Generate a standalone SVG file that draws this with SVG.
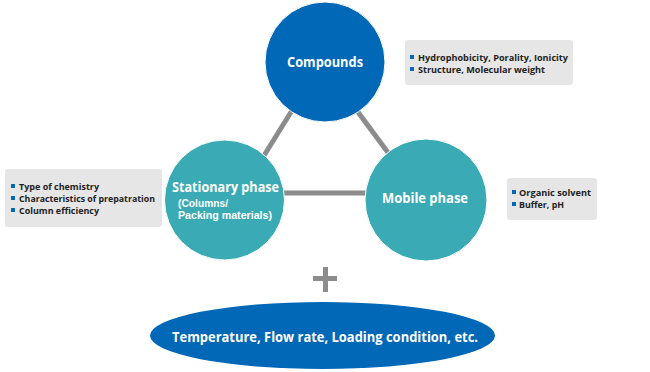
<svg xmlns="http://www.w3.org/2000/svg" width="650" height="372" viewBox="0 0 650 372">
<style>
.conn{stroke:#8c8c8c;stroke-width:5;fill:none}
.blue{fill:#0068b7}
.teal{fill:#3aabb4}
.ct{font-family:"Open Sans","Noto Sans",sans-serif;font-weight:bold;fill:#fff;text-anchor:middle}
.st{font-family:"Liberation Sans",Arial,sans-serif;font-weight:bold;fill:#fff;font-size:10.3px}
.box{fill:#e6e6e6}
.bt{font-family:"Open Sans","Noto Sans",sans-serif;font-weight:bold;font-size:9.5px;fill:#222}
.bul{fill:#0068b7}
</style>
<rect width="650" height="372" fill="#fff"/>
<g id="connectors">
<line class="conn" x1="296" y1="104" x2="260" y2="162"/>
<line class="conn" x1="352" y1="104" x2="392" y2="158"/>
<line class="conn" x1="280" y1="193" x2="370" y2="193"/>
</g>
<g id="compounds">
<circle class="blue" cx="325" cy="62" r="60" stroke="#fff" stroke-width="1"/>
<text class="ct" x="325" y="67" font-size="14" textLength="76" lengthAdjust="spacingAndGlyphs">Compounds</text>
</g>
<g id="stationary">
<circle class="teal" cx="224.5" cy="200" r="60" stroke="#fff" stroke-width="1"/>
<text class="ct" x="225.5" y="192" font-size="13.5" textLength="107" lengthAdjust="spacingAndGlyphs">Stationary phase</text>
<text class="st" x="178" y="207" textLength="50" lengthAdjust="spacingAndGlyphs">(Columns/</text>
<text class="st" x="178" y="219" textLength="94" lengthAdjust="spacingAndGlyphs">Packing materials)</text>
</g>
<g id="mobile">
<circle class="teal" cx="426" cy="200" r="61" stroke="#fff" stroke-width="1"/>
<text class="ct" x="425" y="203" font-size="13.5" textLength="86" lengthAdjust="spacingAndGlyphs">Mobile phase</text>
</g>
<g id="compounds-notes">
<rect class="box" x="405" y="40" width="168" height="45" rx="3"/>
<rect class="bul" x="410" y="55" width="4" height="4"/>
<text class="bt" x="418" y="61" textLength="150" lengthAdjust="spacingAndGlyphs">Hydrophobicity, Porality, Ionicity</text>
<rect class="bul" x="410" y="67" width="4" height="4"/>
<text class="bt" x="418" y="73" textLength="127" lengthAdjust="spacingAndGlyphs">Structure, Molecular weight</text>
</g>
<g id="stationary-notes">
<rect class="box" x="5" y="169" width="157" height="58" rx="3"/>
<rect class="bul" x="11" y="184" width="4" height="4"/>
<text class="bt" x="19" y="190" textLength="80" lengthAdjust="spacingAndGlyphs">Type of chemistry</text>
<rect class="bul" x="11" y="196" width="4" height="4"/>
<text class="bt" x="19" y="202" textLength="136" lengthAdjust="spacingAndGlyphs">Characteristics of prepatration</text>
<rect class="bul" x="11" y="208" width="4" height="4"/>
<text class="bt" x="19" y="214" textLength="80" lengthAdjust="spacingAndGlyphs">Column efficiency</text>
</g>
<g id="mobile-notes">
<rect class="box" x="507" y="178" width="90" height="42" rx="3"/>
<rect class="bul" x="512" y="190" width="4" height="4"/>
<text class="bt" x="519" y="196" textLength="72" lengthAdjust="spacingAndGlyphs">Organic solvent</text>
<rect class="bul" x="512" y="202" width="4" height="4"/>
<text class="bt" x="519" y="208" textLength="45" lengthAdjust="spacingAndGlyphs">Buffer, pH</text>
</g>
<g id="plus">
<rect x="313" y="276" width="24" height="5" fill="#8c8c8c"/>
<rect x="323" y="267" width="5" height="25" fill="#8c8c8c"/>
</g>
<g id="conditions">
<ellipse class="blue" cx="322.5" cy="335.5" rx="172.5" ry="33.5"/>
<text class="ct" x="325" y="341.5" font-size="14.5" textLength="306" lengthAdjust="spacingAndGlyphs">Temperature, Flow rate, Loading condition, etc.</text>
</g>
</svg>
